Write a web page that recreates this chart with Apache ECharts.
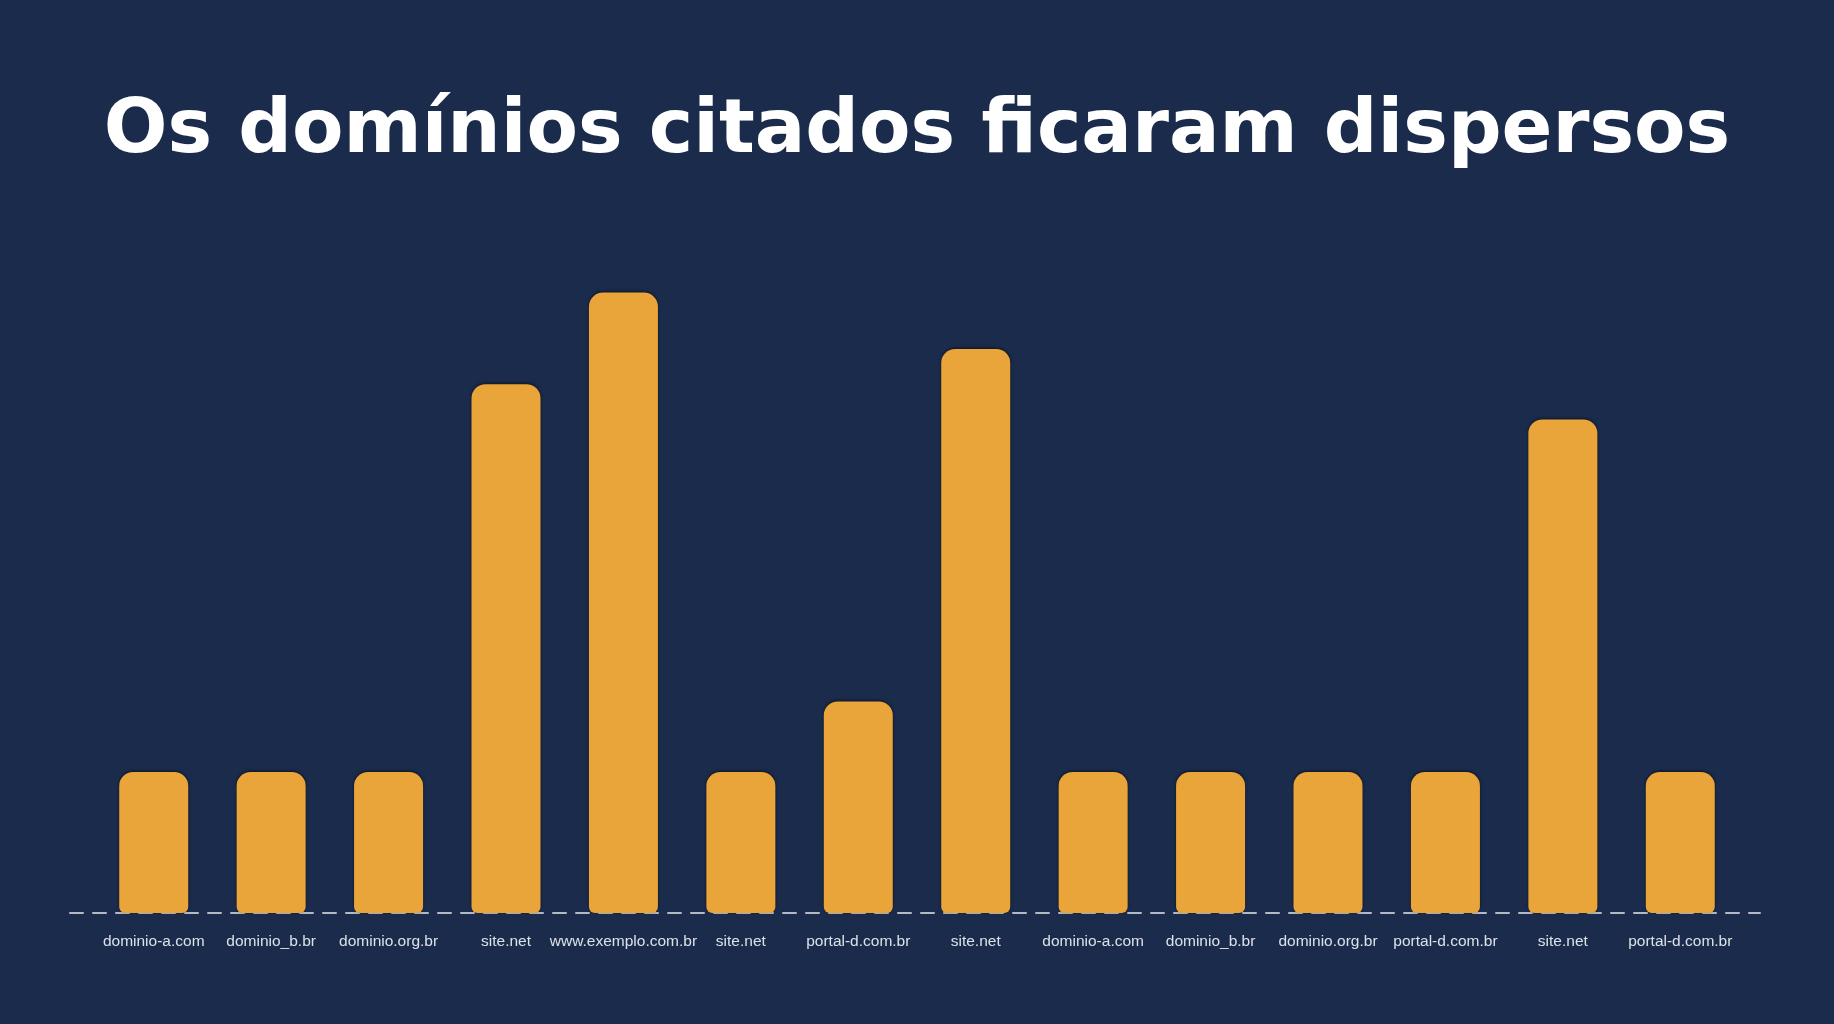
<!DOCTYPE html>
<html lang="pt">
<head>
    <meta charset="UTF-8">
    <title>Os domínios citados ficaram dispersos</title>
    <script src="https://cdn.jsdelivr.net/npm/echarts@6/dist/echarts.min.js"></script>
</head>
<body style="margin: 0; background: #1b2b4b">
<div id="chart_main" style="width: 1834px; height: 1024px"></div>

<script>
    // dados
    let dominios = ['dominio-a.com', 'dominio_b.br', 'dominio.org.br', 'site.net', 'www.exemplo.com.br',
        'site.net', 'portal-d.com.br', 'site.net', 'dominio-a.com', 'dominio_b.br',
        'dominio.org.br', 'portal-d.com.br', 'site.net', 'portal-d.com.br'];
    let citacoes = [2, 2, 2, 7.5, 8.8, 2, 3, 8, 2, 2, 2, 2, 7, 2];

    let myChart = echarts.init(document.getElementById('chart_main'));

    // categorias precisam ser únicas para o eixo
    let cats = dominios.map(function (d, i) { return i + '|' + d; });

    let option = {
        backgroundColor: '#1b2b4b',
        title: {
            text: 'Os domínios citados ficaram dispersos',
            left: 'center',
            top: 90,
            textStyle: {
                color: '#ffffff',
                fontFamily: 'DejaVu Sans',
                fontWeight: 'bold',
                fontSize: 75
            }
        },
        grid: [
            {left: 95, right: 95, top: 208, bottom: 111},
            {left: 70, right: 74, top: 208, bottom: 111}
        ],
        xAxis: [
            {
                type: 'category',
                gridIndex: 0,
                data: cats,
                axisLine: {show: false},
                axisTick: {show: false},
                axisLabel: {
                    interval: 0,
                    margin: 21,
                    color: '#dde1e8',
                    fontSize: 15.5,
                    fontFamily: "'Liberation Sans', Arial, sans-serif",
                    formatter: function (v) { return v.split('|')[1]; }
                }
            },
            {
                type: 'category',
                gridIndex: 1,
                data: cats,
                axisTick: {show: false},
                axisLabel: {show: false},
                axisLine: {
                    show: true,
                    lineStyle: {color: '#b4bac5', width: 2, type: [13, 10]}
                }
            }
        ],
        yAxis: [
            {type: 'value', gridIndex: 0, min: 0, max: 10, show: false},
            {type: 'value', gridIndex: 1, min: 0, max: 10, show: false}
        ],
        series: [
            {
                type: 'bar',
                xAxisIndex: 0,
                yAxisIndex: 0,
                data: citacoes,
                barWidth: 69,
                z: 1,
                itemStyle: {
                    color: '#e9a43a',
                    borderRadius: [14, 14, 6, 6],
                    shadowColor: 'rgba(0,0,0,0.55)',
                    shadowBlur: 3,
                    shadowOffsetY: -1
                }
            }
        ]
    };
    myChart.setOption(option);
</script>
</body>
</html>
